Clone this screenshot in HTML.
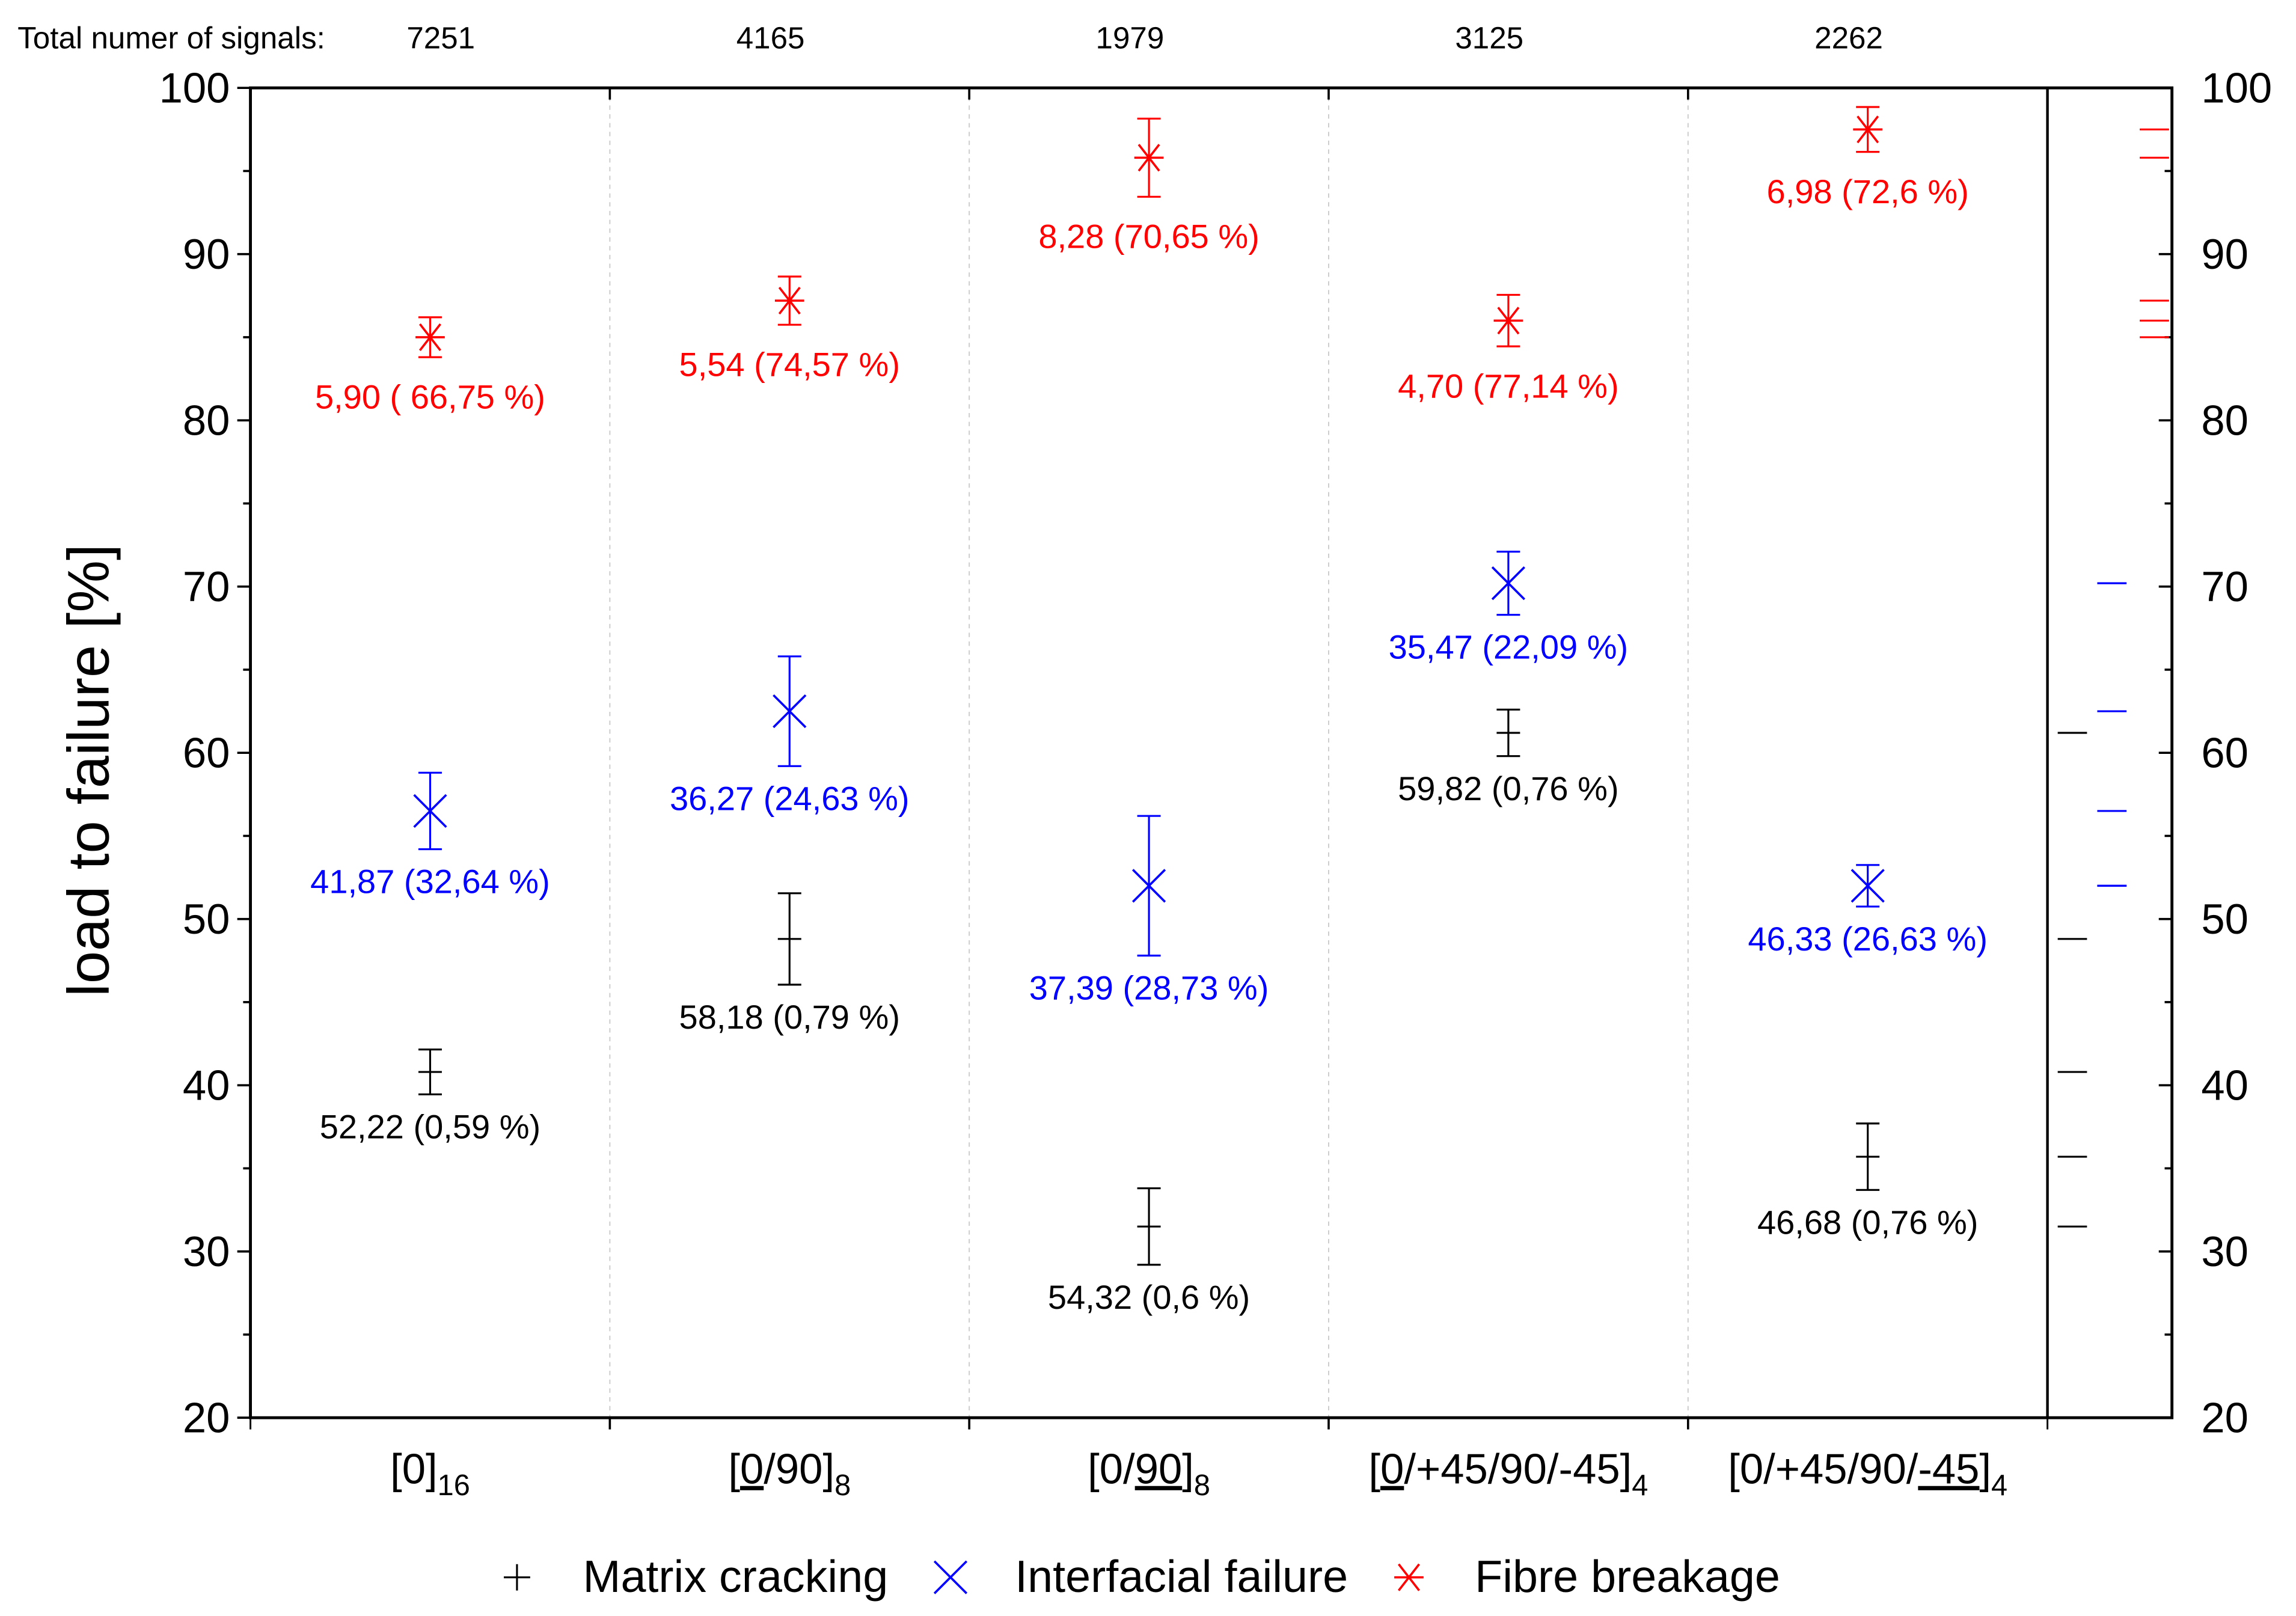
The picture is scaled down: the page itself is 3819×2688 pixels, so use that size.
<!DOCTYPE html>
<html><head><meta charset="utf-8"><style>
html,body{margin:0;padding:0;background:#fff;}
svg{display:block;font-family:"Liberation Sans",Arial,sans-serif;}
</style></head><body>
<svg id="chart" width="3819" height="2688" viewBox="0 0 1567.7 1103.4" xmlns="http://www.w3.org/2000/svg">
<g id="axes"></g><g id="marks"></g><g id="labels"></g>
</svg>
<script>
const categories = ["[0]16","[0/90]8 a","[0/90]8 b","[0/+45/90/-45]4 a","[0/+45/90/-45]4 b"];
const totals = ["7251","4165","1979","3125","2262"];
const matrixMean = [40.8, 48.8, 31.5, 61.2, 35.7];
const matrixErr = [1.35, 2.75, 2.3, 1.4, 2.0];
const matrixLabels = ["52,22 (0,59 %)","58,18 (0,79 %)","54,32 (0,6 %)","59,82 (0,76 %)","46,68 (0,76 %)"];
const interMean = [56.5, 62.5, 52.0, 70.2, 52.0];
const interErr = [2.3, 3.3, 4.2, 1.9, 1.25];
const interLabels = ["41,87 (32,64 %)","36,27 (24,63 %)","37,39 (28,73 %)","35,47 (22,09 %)","46,33 (26,63 %)"];
const fibreMean = [85.0, 87.2, 95.8, 86.0, 97.5];
const fibreErr = [1.2, 1.45, 2.35, 1.55, 1.35];
const fibreLabels = ["5,90 ( 66,75 %)","5,54 (74,57  %)","8,28 (70,65  %)","4,70 (77,14  %)","6,98 (72,6  %)"];
const yTicks = [20,30,40,50,60,70,80,90,100];

const NS="http://www.w3.org/2000/svg";
const L=171, R=1398, R2=1483, T=60, B=968;
const yMin=20, yMax=100;
function y(v){return B-(v-yMin)/(yMax-yMin)*(B-T);}
const colW=(R-L)/categories.length;
function xc(i){return L+colW*(i+0.5);}
function mk(tag,attrs,parent,txt){const e=document.createElementNS(NS,tag);for(const k in attrs)e.setAttribute(k,attrs[k]);if(txt!==undefined)e.textContent=txt;parent.appendChild(e);return e;}
const axes=document.getElementById('axes'), marks=document.getElementById('marks'), labels=document.getElementById('labels');

for(let i=1;i<categories.length;i++){
  const x=L+colW*i;
  const s=mk('line',{x1:x,x2:x,y1:T,y2:B,stroke:'#ccc','stroke-width':0.8,'stroke-dasharray':'3,3'},axes);
  
  
  mk('line',{x1:x,x2:x,y1:T,y2:T+8,stroke:'#000','stroke-width':1.5},axes);
  mk('line',{x1:x,x2:x,y1:B,y2:B+8,stroke:'#000','stroke-width':1.5},axes);
}
mk('line',{x1:L,x2:L,y1:B,y2:B+8,stroke:'#000','stroke-width':1.2},axes);
mk('line',{x1:R,x2:R,y1:B,y2:B+8,stroke:'#000','stroke-width':1.2},axes);
const fr=mk('path',{d:`M${L},${T}H${R2}V${B}H${L}Z`,fill:'none',stroke:'#000','stroke-width':2},axes);


mk('line',{x1:R,x2:R,y1:T,y2:B,stroke:'#000','stroke-width':1.8},axes);
for(let v=20;v<=100;v+=5){
  const major=v%10===0;
  mk('line',{x1:L-(major?9:5),x2:L,y1:y(v),y2:y(v),stroke:'#000','stroke-width':1.5},axes);
  mk('line',{x1:R2-(major?9:5),x2:R2,y1:y(v),y2:y(v),stroke:'#000','stroke-width':1.5},axes);
}
yTicks.forEach(v=>{
  const t=mk('text',{x:L-14,y:y(v)+10,'font-size':29,'text-anchor':'end'},labels,String(v));
  
  
  const t2=mk('text',{x:R2+20,y:y(v)+10,'font-size':29,'text-anchor':'start'},labels,String(v));
  
  
});
const yt=mk('text',{x:0,y:0,'font-size':40,'text-anchor':'middle',transform:'translate(74,526) rotate(-90)'},labels,'load to failure [%]');


const tt=mk('text',{x:12,y:33,'font-size':21},labels,'Total numer of signals:');


totals.forEach((s,i)=>{
  const x=i===0?301:xc(i)-13;
  const t=mk('text',{x:x,y:33,'font-size':21,'text-anchor':'middle'},labels,s);
  
  
});
const xl=[
 [["[0]",0],["16",2]],
 [["[",0],["0",1],["/90]",0],["8",2]],
 [["[0/",0],["90",1],["]",0],["8",2]],
 [["[",0],["0",1],["/+45/90/-45]",0],["4",2]],
 [["[0/+45/90/",0],["-45",1],["]",0],["4",2]]
];
xl.forEach((parts,i)=>{
  const t=mk('text',{x:xc(i),y:1013,'font-size':29,'text-anchor':'middle'},labels);
  
  
  parts.forEach(p=>{
    const a={};
    if(p[1]===1)a['text-decoration']='underline';
    if(p[1]===2){a['font-size']=20;a['dy']=8;}
    mk('tspan',a,t,p[0]);
  });
});
function errbar(i,m,e,col,g){
  const x=xc(i);
  mk('line',{x1:x,x2:x,y1:y(m+e),y2:y(m-e),stroke:col,'stroke-width':1.3},g);
  mk('line',{x1:x-8,x2:x+8,y1:y(m+e),y2:y(m+e),stroke:col,'stroke-width':1.3},g);
  mk('line',{x1:x-8,x2:x+8,y1:y(m-e),y2:y(m-e),stroke:col,'stroke-width':1.3},g);
}
function label(i,yy,txt,col){
  const t=mk('text',{x:xc(i),y:yy,'font-size':23,'text-anchor':'middle',fill:col,'xml:space':'preserve'},labels,txt);
  
  
}
categories.forEach((c,i)=>{
  const x=xc(i);
  let g=mk('g',{},marks);
  
  
  errbar(i,matrixMean[i],matrixErr[i],'#000',g);
  mk('line',{x1:x-8,x2:x+8,y1:y(matrixMean[i]),y2:y(matrixMean[i]),stroke:'#000','stroke-width':1.3},g);
  label(i,y(matrixMean[i]-matrixErr[i])+30,matrixLabels[i],'#000');
  g=mk('g',{},marks);
  
  
  errbar(i,interMean[i],interErr[i],'#0000ff',g);
  const yi=y(interMean[i]);
  mk('path',{d:`M${x-11},${yi-11}L${x+11},${yi+11}M${x-11},${yi+11}L${x+11},${yi-11}`,stroke:'#0000ff','stroke-width':1.5},g);
  label(i,y(interMean[i]-interErr[i])+30,interLabels[i],'#0000ff');
  g=mk('g',{},marks);
  
  
  errbar(i,fibreMean[i],fibreErr[i],'#ff0000',g);
  const yf=y(fibreMean[i]);
  mk('path',{d:`M${x-10},${yf}L${x+10},${yf}M${x-7},${yf-9}L${x+7},${yf+9}M${x-7},${yf+9}L${x+7},${yf-9}`,stroke:'#ff0000','stroke-width':1.5},g);
  label(i,y(fibreMean[i]-fibreErr[i])+35,fibreLabels[i],'#ff0000');
  let s=mk('line',{x1:1405,x2:1425,y1:y(matrixMean[i]),y2:y(matrixMean[i]),stroke:'#000','stroke-width':1.3},marks);
  
  
  s=mk('line',{x1:1432,x2:1452,y1:y(interMean[i]),y2:y(interMean[i]),stroke:'#0000ff','stroke-width':1.3},marks);
  
  
  s=mk('line',{x1:1461,x2:1481,y1:y(fibreMean[i]),y2:y(fibreMean[i]),stroke:'#ff0000','stroke-width':1.3},marks);
  
  
});
const lg=mk('g',{},labels);


mk('path',{d:'M344,1077H362M353,1068V1086',stroke:'#000','stroke-width':1.3},lg);
mk('text',{x:398,y:1087,'font-size':31},lg,'Matrix cracking');
mk('path',{d:'M638,1066L660,1088M638,1088L660,1066',stroke:'#0000ff','stroke-width':1.5},lg);
mk('text',{x:693,y:1087,'font-size':31},lg,'Interfacial failure');
mk('path',{d:'M952,1077H972M955,1068L969,1086M955,1086L969,1068',stroke:'#ff0000','stroke-width':1.5},lg);
mk('text',{x:1007,y:1087,'font-size':31},lg,'Fibre breakage');
</script>
</body></html>
